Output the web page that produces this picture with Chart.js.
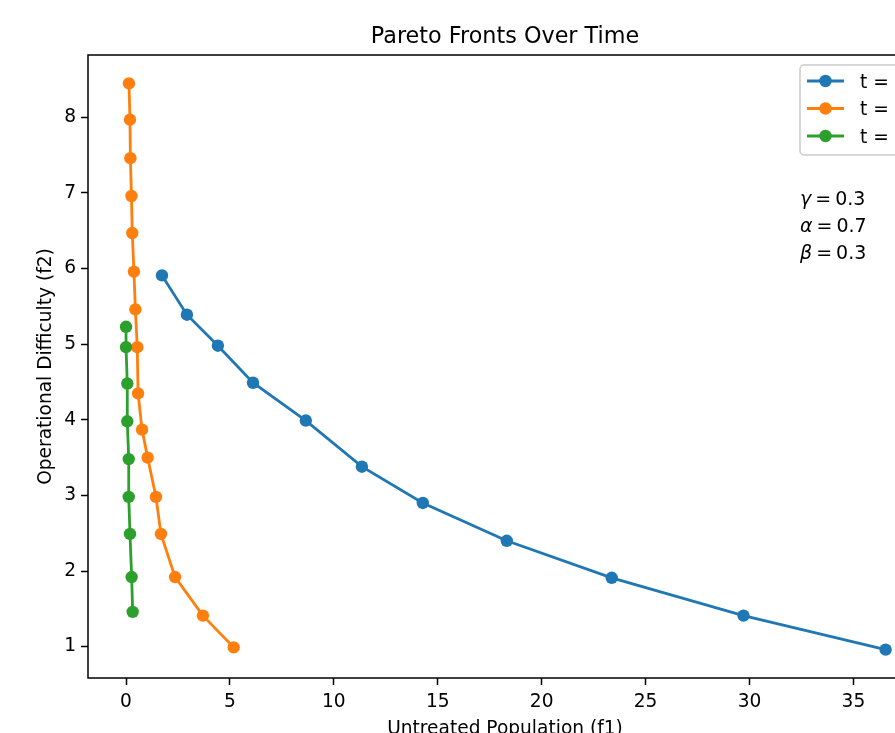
<!DOCTYPE html>
<html>
<head>
<meta charset="utf-8">
<title>Pareto Fronts Over Time</title>
<script src="https://cdn.jsdelivr.net/npm/chart.js@4.4.0/dist/chart.umd.min.js"></script>
<style>
  html, body { margin: 0; padding: 0; background: #fff; overflow: hidden; }
  #wrap { width: 960px; height: 733px; }
</style>
</head>
<body>
<div id="wrap"><canvas id="paretoChart" width="960" height="733"></canvas></div>
<script>
// ===== Data =====
const seriesLabels = ['t = 0', 't = 1', 't = 2'];
const seriesColors = ['#1f77b4', '#ff7f0e', '#2ca02c'];

const f1T0 = [1.73, 2.93, 4.42, 6.11, 8.65, 11.35, 14.28, 18.32, 23.37, 29.71, 36.55];
const f2T0 = [5.91, 5.39, 4.98, 4.49, 3.99, 3.38, 2.90, 2.40, 1.91, 1.41, 0.96];

const f1T1 = [0.14, 0.19, 0.21, 0.26, 0.30, 0.38, 0.45, 0.54, 0.58, 0.77, 1.04, 1.44, 1.68, 2.36, 3.70, 5.18];
const f2T1 = [8.45, 7.97, 7.46, 6.96, 6.47, 5.96, 5.46, 4.96, 4.35, 3.87, 3.50, 2.98, 2.49, 1.92, 1.41, 0.99];

const f1T2 = [0.00, 0.00, 0.06, 0.06, 0.13, 0.13, 0.19, 0.27, 0.32];
const f2T2 = [5.23, 4.96, 4.48, 3.98, 3.48, 2.98, 2.49, 1.92, 1.46];

const xTicks = [0, 5, 10, 15, 20, 25, 30, 35];
const yTicks = [1, 2, 3, 4, 5, 6, 7, 8];

const paramSymbols = ['γ', 'α', 'β'];
const paramValues = ['0.3', '0.7', '0.3'];

const FONT = "'DejaVu Sans', sans-serif";

function toPoints(xs, ys) {
  return xs.map((x, i) => ({ x: x, y: ys[i] }));
}

// ===== Plugins =====
// axes frame (all four spines)
const framePlugin = {
  id: 'frame',
  afterDatasetsDraw(chart) {
    const { ctx, chartArea: a } = chart;
    ctx.save();
    ctx.strokeStyle = '#000';
    ctx.lineWidth = 1.5;
    ctx.strokeRect(a.left, a.top, a.right - a.left, a.bottom - a.top);
    ctx.restore();
  }
};

// title centred over the axes, not the canvas
const titlePlugin = {
  id: 'axesTitle',
  afterDraw(chart) {
    const { ctx, chartArea: a } = chart;
    ctx.save();
    ctx.fillStyle = '#000';
    ctx.font = '22.3px ' + FONT;
    ctx.textAlign = 'center';
    ctx.textBaseline = 'alphabetic';
    ctx.fillText('Pareto Fronts Over Time', (a.left + a.right) / 2, 43);
    ctx.restore();
  }
};

// matplotlib-like legend box, upper right
const legendPlugin = {
  id: 'boxLegend',
  afterDraw(chart) {
    const { ctx, chartArea: a } = chart;
    const sets = chart.data.datasets;
    const boxW = 113, rowH = 27.5;
    const x0 = a.right - 9 - boxW, y0 = a.top + 10;
    const boxH = 90;
    ctx.save();
    ctx.fillStyle = 'rgba(255,255,255,0.8)';
    ctx.strokeStyle = '#cccccc';
    ctx.lineWidth = 1.5;
    ctx.beginPath();
    ctx.roundRect(x0, y0, boxW, boxH, 4);
    ctx.fill();
    ctx.stroke();
    sets.forEach((ds, i) => {
      const cy = y0 + 16 + i * rowH;
      ctx.strokeStyle = ds.borderColor;
      ctx.lineWidth = 2.8;
      ctx.beginPath();
      ctx.moveTo(x0 + 7, cy);
      ctx.lineTo(x0 + 44, cy);
      ctx.stroke();
      ctx.fillStyle = ds.borderColor;
      ctx.beginPath();
      ctx.arc(x0 + 25.5, cy, 6.2, 0, Math.PI * 2);
      ctx.fill();
      ctx.fillStyle = '#000';
      ctx.font = '18.6px ' + FONT;
      ctx.textAlign = 'left';
      ctx.textBaseline = 'alphabetic';
      ctx.fillText(ds.label, x0 + 60, cy + 6.5);
    });
    ctx.restore();
  }
};

// parameter annotation
const paramsPlugin = {
  id: 'params',
  afterDraw(chart) {
    const { ctx } = chart;
    ctx.save();
    ctx.fillStyle = '#000';
    ctx.textBaseline = 'alphabetic';
    ctx.textAlign = 'left';
    paramSymbols.forEach((sym, i) => {
      const y = 205 + i * 27;
      let x = 800;
      ctx.font = 'italic 19px ' + FONT;
      ctx.fillText(sym, x, y);
      x += ctx.measureText(sym).width + 4;
      ctx.font = '19px ' + FONT;
      ctx.fillText('=', x, y);
      x += ctx.measureText('=').width + 4;
      ctx.fillText(paramValues[i], x, y);
    });
    ctx.restore();
  }
};

// ===== Chart =====
const xyData = [toPoints(f1T0, f2T0), toPoints(f1T1, f2T1), toPoints(f1T2, f2T2)];

const axisGrid = { display: true, drawOnChartArea: false, drawTicks: true, tickLength: 7, tickColor: '#000', tickWidth: 1.5 };

new Chart(document.getElementById('paretoChart').getContext('2d'), {
  type: 'scatter',
  data: {
    datasets: xyData.map((pts, i) => ({
      label: seriesLabels[i],
      data: pts,
      showLine: true,
      borderColor: seriesColors[i],
      backgroundColor: seriesColors[i],
      borderWidth: 2.8,
      pointRadius: 6.2,
      pointHoverRadius: 6.2,
      pointBorderWidth: 0,
      pointBackgroundColor: seriesColors[i],
      tension: 0,
      order: xyData.length - 1 - i,
    }))
  },
  options: {
    responsive: false,
    animation: false,
    layout: { padding: { left: 35, right: 38, top: 55, bottom: 0 } },
    plugins: {
      legend: { display: false },
      tooltip: { enabled: false },
      title: { display: false },
    },
    scales: {
      x: {
        type: 'linear',
        min: -1.83,
        max: 38.3,
        afterBuildTicks: s => { s.ticks = xTicks.map(v => ({ value: v })); },
        afterFit: s => { s.height = 55; },
        grid: axisGrid,
        border: { display: false },
        ticks: { color: '#000', font: { family: FONT, size: 18.6 }, padding: 6, maxRotation: 0, autoSkip: false },
        title: { display: true, text: 'Untreated Population (f1)', color: '#000', font: { family: FONT, size: 18.6, lineHeight: 0.4 }, padding: 0 },
      },
      y: {
        type: 'linear',
        min: 0.585,
        max: 8.825,
        afterBuildTicks: s => { s.ticks = yTicks.map(v => ({ value: v })); },
        afterFit: s => { s.width = 53; },
        grid: axisGrid,
        border: { display: false },
        ticks: { color: '#000', font: { family: FONT, size: 18.6 }, padding: 5, autoSkip: false },
        title: { display: true, text: 'Operational Difficulty (f2)', color: '#000', font: { family: FONT, size: 18.6 }, padding: 0 },
      },
    }
  },
  plugins: [framePlugin, titlePlugin, legendPlugin, paramsPlugin]
});
</script>
</body>
</html>
